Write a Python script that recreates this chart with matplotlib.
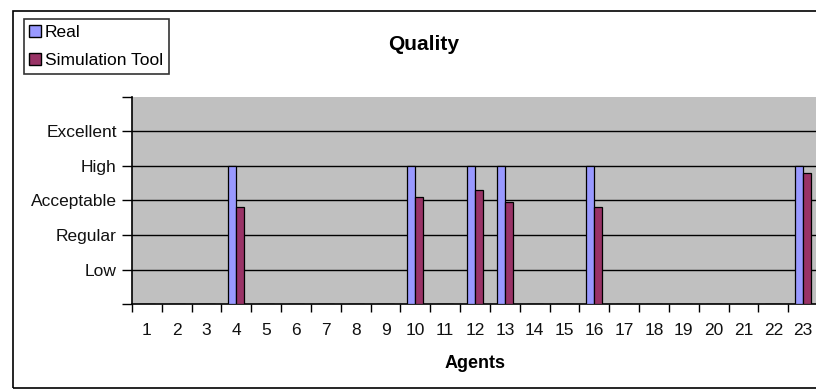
import matplotlib
matplotlib.use("Agg")
import matplotlib.pyplot as plt
from matplotlib.patches import Rectangle
from matplotlib.lines import Line2D
import numpy as np

plt.rcParams['font.family'] = ['Liberation Sans', 'DejaVu Sans']

agents = [str(i) for i in range(1, 24)]
real = [0, 0, 0, 4, 0, 0, 0, 0, 0, 4, 0, 4, 4, 0, 0, 4, 0, 0, 0, 0, 0, 0, 4]
simulation = [0, 0, 0, 2.8, 0, 0, 0, 0, 0, 3.1, 0, 3.3, 2.95, 0, 0, 2.8, 0, 0, 0, 0, 0, 0, 3.8]
quality_levels = ["", "Low", "Regular", "Acceptable", "High", "Excellent", ""]

W, H = 816, 389
fig = plt.figure(figsize=(W / 100, H / 100), dpi=100)

# outer chart frame
fig.patches.append(Rectangle((13 / W, 1 - 388 / H), 1.2, (388 - 11) / H,
                             transform=fig.transFigure, fill=False,
                             edgecolor="black", linewidth=1.2))

ax = fig.add_axes([132 / W, 1 - 304 / H, (818 - 132) / W, (304 - 97) / H])
ax.set_facecolor("#C0C0C0")

x = np.arange(1, len(agents) + 1)
bw = 0.27
ax.bar(x - bw / 2, real, bw, color="#9999FF", edgecolor="black", linewidth=0.9, zorder=3)
ax.bar(x + bw / 2, simulation, bw, color="#993366", edgecolor="black", linewidth=0.9, zorder=3)

ax.set_xlim(0.5, len(agents) + 0.5)
ax.set_ylim(0, 6)
ax.set_yticks(range(len(quality_levels)))
ax.set_yticklabels(quality_levels, fontsize=12.5, color="#111111")
for yv in range(1, 6):
    ax.axhline(yv, color="black", linewidth=1.0, zorder=1)

ax.set_xticks(x)
ax.set_xticklabels(agents, fontsize=12.5, color="#111111")
ax.set_xticks(np.arange(0.5, len(agents) + 1, 1), minor=True)
ax.tick_params(axis="x", which="major", length=0, pad=14)
ax.tick_params(axis="x", which="minor", length=6, width=1, direction="out")
ax.tick_params(axis="y", length=7, width=1, direction="out", pad=4)

for s in ["top", "right"]:
    ax.spines[s].set_visible(False)
for s in ["left", "bottom"]:
    ax.spines[s].set_linewidth(1.2)

ax.set_xlabel("Agents", fontsize=13, fontweight="bold", labelpad=12)

fig.text(424 / W, 1 - 45 / H, "Quality", ha="center", va="center",
         fontsize=15, fontweight="bold")

handles = [
    Line2D([], [], marker="s", linestyle="none", markersize=8,
           markerfacecolor="#9999FF", markeredgecolor="black", markeredgewidth=1),
    Line2D([], [], marker="s", linestyle="none", markersize=8,
           markerfacecolor="#993366", markeredgecolor="black", markeredgewidth=1),
]
leg = fig.legend(handles, ["Real", "Simulation Tool"], loc="upper left",
                 bbox_to_anchor=(24 / W, 1 - 19 / H), fontsize=12.5,
                 frameon=True, fancybox=False, edgecolor="black",
                 handlelength=0.6, handletextpad=0.25, borderpad=0.35,
                 labelspacing=0.75, borderaxespad=0)
leg.get_frame().set_linewidth(1.2)

fig.savefig("out.png", dpi=100)
